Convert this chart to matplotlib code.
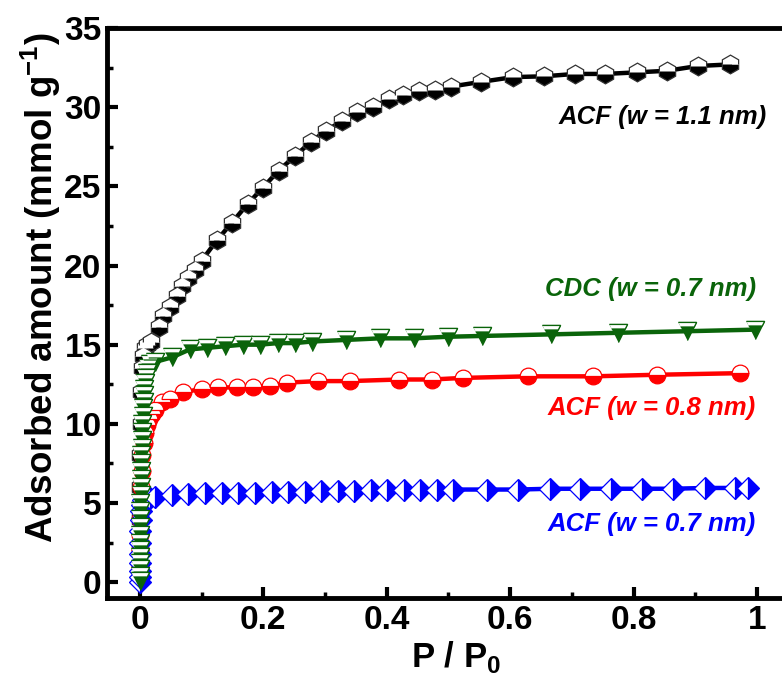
import matplotlib
matplotlib.use("Agg")
import matplotlib.pyplot as plt
from matplotlib.ticker import MultipleLocator

# ---------------- data ----------------
acf11_p = [0.00005, 0.0002, 0.0004, 0.0007, 0.001, 0.0014, 0.002, 0.003, 0.005, 0.008, 0.012,
           0.018, 0.031, 0.037, 0.049, 0.060, 0.068, 0.078, 0.089, 0.100, 0.125, 0.149, 0.175,
           0.199, 0.225, 0.251, 0.277, 0.301, 0.327, 0.352, 0.378, 0.404, 0.426, 0.452, 0.478,
           0.504, 0.553, 0.605, 0.655, 0.705, 0.754, 0.806, 0.854, 0.904, 0.956]
acf11_q = [0.3, 2.0, 4.0, 6.0, 8.0, 10.0, 12.0, 13.5, 14.3, 14.8, 15.0,
           15.2, 16.1, 16.8, 17.4, 18.1, 18.7, 19.2, 19.7, 20.3, 21.6, 22.7, 23.9,
           24.9, 26.0, 26.9, 27.8, 28.5, 29.1, 29.7, 30.0, 30.5, 30.8, 31.0, 31.1,
           31.3, 31.6, 31.9, 31.95, 32.1, 32.1, 32.2, 32.3, 32.6, 32.7]

acf08_p = [0.00005, 0.0002, 0.0004, 0.0007, 0.001, 0.0015, 0.002, 0.003, 0.004, 0.006, 0.008,
           0.011, 0.015, 0.019, 0.024, 0.036, 0.049, 0.070, 0.100, 0.126, 0.157, 0.183, 0.211,
           0.238, 0.288, 0.340, 0.420, 0.473, 0.523, 0.629, 0.734, 0.838, 0.972]
acf08_q = [0.2, 1.0, 2.0, 3.0, 4.0, 5.0, 6.0, 7.0, 8.0, 8.8, 9.4,
           9.9, 10.3, 10.6, 10.9, 11.4, 11.6, 12.0, 12.2, 12.3, 12.3, 12.35, 12.4,
           12.6, 12.7, 12.7, 12.8, 12.8, 12.9, 13.0, 13.0, 13.1, 13.2]

acf07_p = [0.00002, 0.00005, 0.0001, 0.0002, 0.0003, 0.0005, 0.0008, 0.0012, 0.002, 0.003,
           0.005, 0.016, 0.024, 0.052, 0.078, 0.105, 0.133, 0.159, 0.186, 0.214, 0.240,
           0.267, 0.293, 0.321, 0.347, 0.374, 0.400, 0.428, 0.454, 0.481, 0.507, 0.562,
           0.613, 0.665, 0.713, 0.763, 0.814, 0.864, 0.916, 0.964, 0.985]
acf07_q = [0.0, 0.3, 0.7, 1.2, 1.8, 2.5, 3.2, 3.9, 4.5, 4.9,
           5.2, 5.3, 5.4, 5.5, 5.55, 5.6, 5.6, 5.65, 5.65, 5.7, 5.7,
           5.7, 5.75, 5.75, 5.75, 5.8, 5.8, 5.8, 5.8, 5.8, 5.85, 5.85,
           5.85, 5.9, 5.9, 5.9, 5.9, 5.9, 5.95, 5.95, 5.95]

cdc07_p = [0.00001, 0.00003, 0.00006, 0.0001, 0.00015, 0.0002, 0.0003, 0.0004, 0.0005, 0.0006,
           0.0008, 0.001, 0.0012, 0.0014, 0.0017, 0.002, 0.0023, 0.0026, 0.003, 0.0034,
           0.0038, 0.0043, 0.0048, 0.0054, 0.006, 0.0067, 0.0075, 0.0085, 0.0095, 0.011,
           0.013, 0.016, 0.024, 0.052, 0.081, 0.109, 0.138, 0.167, 0.194, 0.224, 0.251,
           0.279, 0.334, 0.389, 0.444, 0.499, 0.554, 0.666, 0.775, 0.887, 0.997]
cdc07_q = [0.1, 0.4, 0.8, 1.2, 1.6, 2.0, 2.5, 3.0, 3.5, 4.0,
           4.5, 5.0, 5.5, 6.0, 6.5, 7.0, 7.5, 8.0, 8.5, 9.0,
           9.5, 10.0, 10.5, 11.0, 11.4, 11.8, 12.2, 12.6, 12.9, 13.2,
           13.5, 13.8, 13.9, 14.2, 14.7, 14.8, 14.9, 15.0, 15.0, 15.1, 15.1,
           15.2, 15.3, 15.4, 15.4, 15.5, 15.55, 15.65, 15.75, 15.85, 15.95]

labels = ["ACF (w = 1.1 nm)", "CDC (w = 0.7 nm)", "ACF (w = 0.8 nm)", "ACF (w = 0.7 nm)"]
xticks = [0, 0.2, 0.4, 0.6, 0.8, 1]
xtick_labels = ["0", "0.2", "0.4", "0.6", "0.8", "1"]
yticks = [0, 5, 10, 15, 20, 25, 30, 35]

# ---------------- style ----------------
plt.rcParams['font.family'] = ["Liberation Sans", "DejaVu Sans"]
plt.rcParams['mathtext.fontset'] = 'custom'
plt.rcParams['mathtext.rm'] = 'Liberation Sans:bold'
plt.rcParams['mathtext.bf'] = 'Liberation Sans:bold'

BLACK = "#000000"
GREEN = "#0A640A"
RED = "#FF0000"
BLUE = "#0000FF"

# triangle-down marker and its white top band
TRI_DOWN = [(-1, 1), (1, 1), (0, -1)]
TRI_BAND = [(-1, 1), (1, 1), (0.75, 0.5), (-0.75, 0.5)]

fig = plt.figure(figsize=(7.82, 6.8), dpi=100)
ax = fig.add_axes([0.137, 0.1206, 0.863, 0.8382])

lw = 3.2
mew = 0.9
ax.plot(acf11_p, acf11_q, color=BLACK, lw=lw, marker='h', ms=13.5, fillstyle='bottom',
        markerfacecolor=BLACK, markerfacecoloralt='white', markeredgecolor='#333333',
        markeredgewidth=mew, zorder=3)
ax.plot(acf08_p, acf08_q, color=RED, lw=lw, marker='o', ms=12, fillstyle='bottom',
        markerfacecolor=RED, markerfacecoloralt='white', markeredgecolor=RED,
        markeredgewidth=mew, zorder=4)
ax.plot(acf07_p, acf07_q, color=BLUE, lw=lw, marker='D', ms=11, fillstyle='right',
        markerfacecolor=BLUE, markerfacecoloralt='white', markeredgecolor=BLUE,
        markeredgewidth=mew, zorder=5)
ax.plot(cdc07_p, cdc07_q, color=GREEN, lw=lw, marker=TRI_DOWN, ms=13,
        markerfacecolor=GREEN, markeredgecolor=GREEN, markeredgewidth=mew, zorder=6)
ax.plot(cdc07_p, cdc07_q, ls='none', marker=TRI_BAND, ms=13,
        markerfacecolor='white', markeredgecolor=GREEN, markeredgewidth=mew, zorder=7)

ax.set_xlim(-0.053, 1.0405)
ax.set_ylim(-1.0, 35)

for s in ['left', 'bottom', 'top']:
    ax.spines[s].set_linewidth(3.5)
ax.spines['right'].set_visible(False)

ax.set_xticks(xticks)
ax.set_xticklabels(xtick_labels)
ax.set_yticks(yticks)
ax.xaxis.set_minor_locator(MultipleLocator(0.1))
ax.yaxis.set_minor_locator(MultipleLocator(2.5))
ax.tick_params(which='major', direction='in', length=8, width=3, top=False, right=False,
               labelsize=24)
ax.tick_params(axis='x', which='major', pad=5)
ax.tick_params(axis='y', which='major', pad=4)
ax.tick_params(which='minor', direction='in', length=4, width=2.5, top=False, right=False)
for lab in ax.get_xticklabels() + ax.get_yticklabels():
    lab.set_fontweight('bold')

ax.set_xlabel(r"P / P$_\mathbf{0}$", fontsize=25, fontweight='bold', labelpad=-4)
ax.xaxis.set_label_coords(0.517, -0.072)
ax.set_ylabel(r"Adsorbed amount (mmol g$^\mathbf{-1}$)", fontsize=26.5, fontweight='bold')
ax.yaxis.set_label_coords(-0.066, 0.544)

ann = dict(fontsize=18.5, fontweight='bold', fontstyle='italic', ha='right', va='center')
ax.text(1.016, 29.4, labels[0], color=BLACK, **ann)
ax.text(0.998, 18.5, labels[1], color=GREEN, **ann)
ax.text(0.998, 11.0, labels[2], color=RED, **ann)
ax.text(0.998, 3.7, labels[3], color=BLUE, **ann)

fig.savefig("out.png", dpi=100)
